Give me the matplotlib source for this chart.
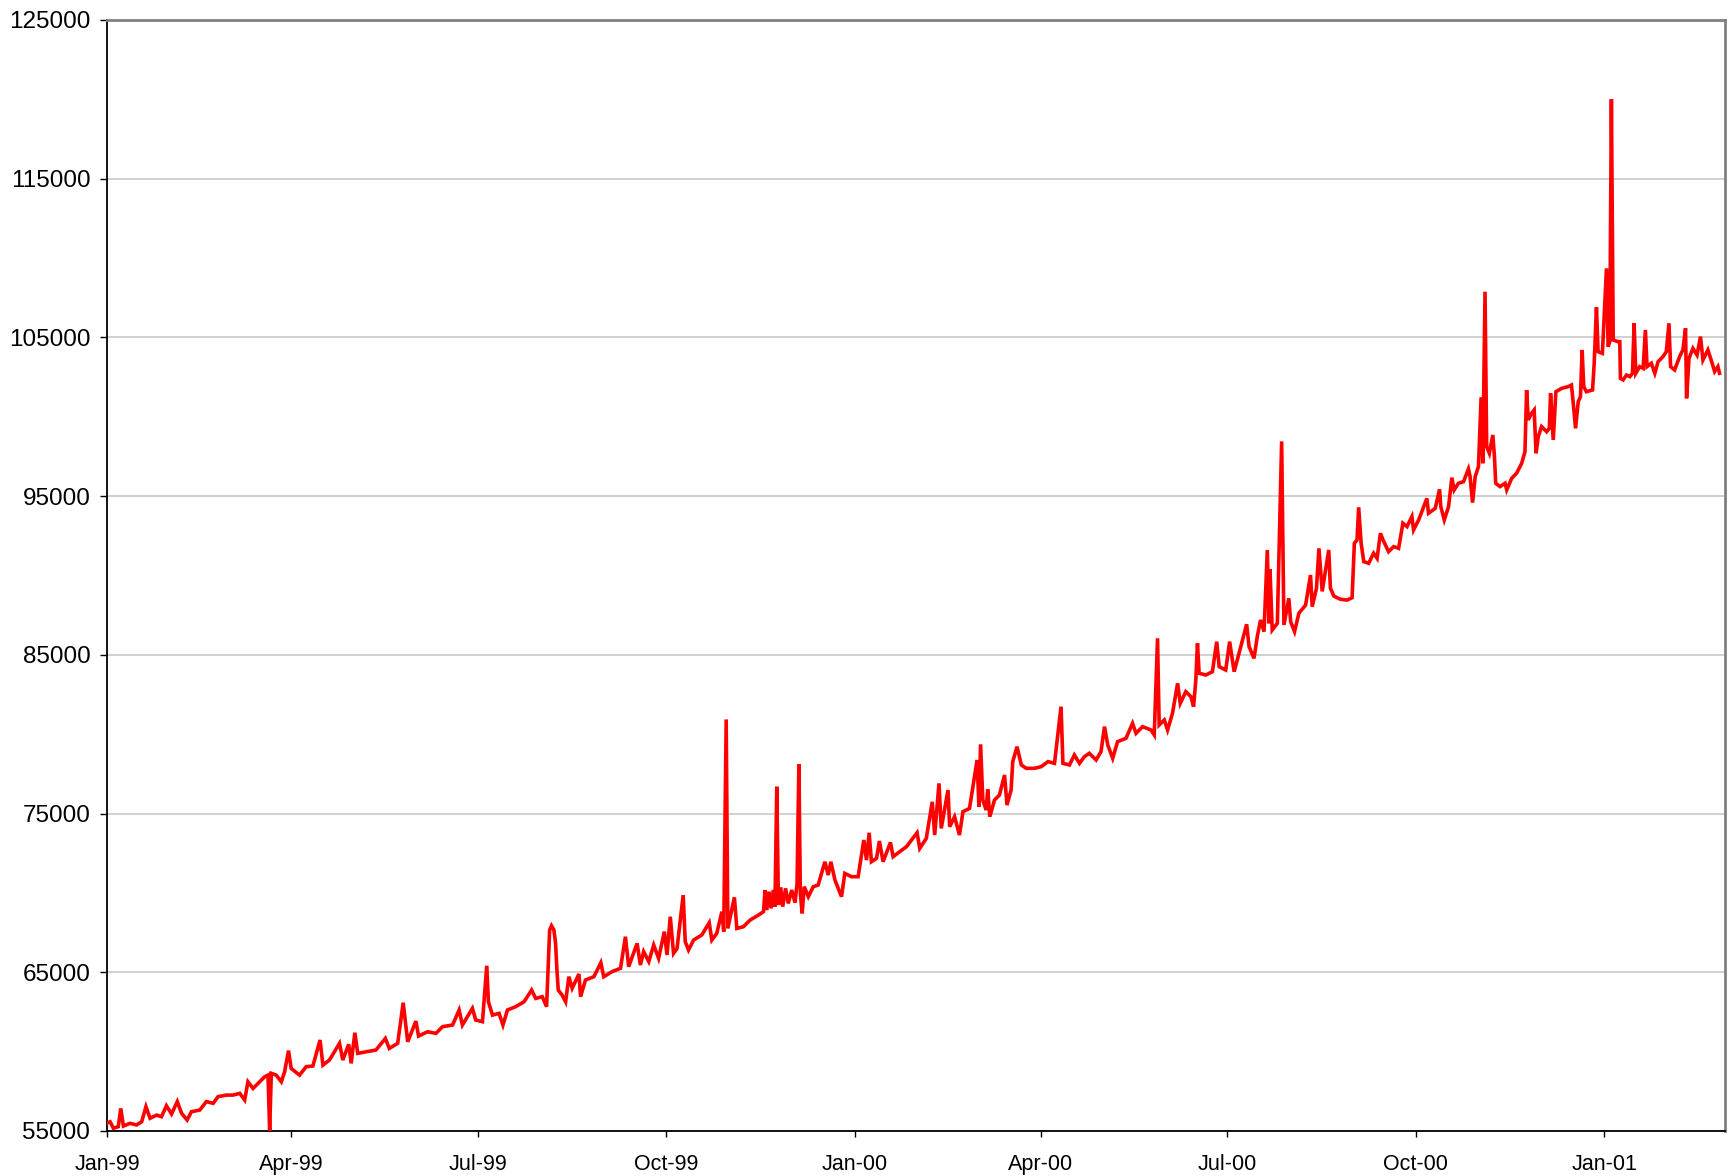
import matplotlib
matplotlib.use("Agg")
import matplotlib.pyplot as plt
import matplotlib.dates as mdates
import pandas as pd

# days counted from 1 Jan 1999
days = [
    0, 1.5, 3.1, 5.5, 6.7, 8, 11.2, 14.4, 16.9, 19, 21, 24.2, 26.6, 29, 31.5, 34.3, 36.4, 39.1, 41.2, 45.3,
    48.5, 51.8, 54.2, 58.3, 61.5, 64.8, 67.2, 68.8, 71.3, 74.5, 77, 78.6, 79.4, 80.2, 82.6, 85.1, 86.7, 88.6, 89.9, 94,
    97.2, 100.5, 104, 105.4, 108.6, 113.5, 115.1, 118, 119.2, 121, 122.4, 126.5, 131.3, 135.9, 137.8, 141.9, 144.6, 146.8, 150.8, 152.1,
    156.5, 160.6, 163.8, 168.7, 171.9, 173.5, 178.4, 180, 183.3, 185.4, 186.2, 188.2, 191.4, 193.3, 195.5, 199.5, 203.6, 207.3, 209.3, 212.5,
    214.6, 216.1, 217, 218.2, 219, 219.7, 220.3, 222.2, 223.9, 225.5, 227.1, 230.4, 231.2, 233.6, 237.7, 241.1, 242.5, 246.6, 250.7, 253.1,
    254.7, 258.8, 260.4, 262, 264.5, 266.9, 269.3, 272.1, 273.4, 275, 276.6, 278.3, 281.3, 282.3, 283.9, 286.4, 290.4, 294, 295.3, 297.7,
    300.2, 301.1, 302.3, 303.1, 306.3, 307.5, 310.7, 314, 318, 320.5, 321.3, 322.1, 323.2, 324.2, 325.3, 326.1, 327, 327.8, 328.9, 329.9,
    331.3, 332.6, 334.3, 335.9, 336.9, 337.8, 338.5, 339.4, 340.4, 342.4, 344.8, 347.2, 350.5, 352.1, 353.4, 355.4, 358.6, 360.2, 363.5, 366.7,
    369.5, 370.8, 372.1, 373.2, 375.7, 377.1, 378.9, 382.5, 383.8, 387, 390.3, 395.5, 396.8, 400, 402.9, 404.1, 406.2, 407.3, 410.6, 411.4,
    413.8, 416.2, 417.9, 421.1, 424.8, 425.7, 426.5, 427.6, 429.2, 430, 431, 433.3, 435.7, 438.2, 439.4, 441.4, 442.2, 444.3, 446.4, 448.8,
    452.9, 456.1, 459.4, 462.6, 465.8, 466.7, 469.9, 472.3, 474.8, 477.2, 479.6, 482.9, 485.3, 487, 488.6, 491, 493.4, 497.5, 500.7, 502.4,
    505.6, 509.7, 511.3, 512.9, 513.7, 516.2, 517.8, 520.2, 522.7, 524, 526.7, 529.2, 530.5, 531.6, 532.4, 533.2, 536.5, 539.7, 541.8, 543,
    546.2, 548.1, 550.3, 552.7, 556.4, 557.6, 560, 561.6, 563.2, 564.9, 566.5, 567.3, 567.8, 568.9, 571.4, 573.5, 574.6, 577, 577.9, 579.8,
    581.9, 585.2, 587.6, 588.4, 590.5, 591.7, 593.3, 596.5, 597.3, 599, 602.2, 605.5, 607.9, 609, 610.3, 611.1, 612.3, 613.6, 616, 618.4,
    620.1, 621.7, 623, 625.7, 628.2, 630.6, 632.7, 634.7, 637.1, 637.9, 640.4, 644.4, 645.2, 648.5, 650.6, 651.2, 652.9, 655, 656.6, 657.7,
    659.8, 662.3, 664.7, 665.5, 666.7, 668, 669.6, 670.9, 671.7, 672.8, 673.6, 674.9, 676.6, 677.4, 678, 680.1, 682.6, 683.4, 685.8, 688.2,
    690.7, 692.3, 693.1, 693.9, 695.5, 696.8, 697.7, 698.8, 700.4, 702.9, 704.2, 704.8, 706.1, 707.4, 710.2, 713.4, 715, 715.8, 717, 718.3,
    719.4, 720.2, 721, 722.3, 725.3, 726.1, 727.2, 728, 730.1, 732.1, 732.9, 733.7, 734.5, 735.4, 737.8, 738.6, 738.9, 740.2, 741.9, 743.5,
    744.8, 745.6, 746.4, 748.3, 750, 751.1, 751.9, 754, 755.7, 757.3, 759.7, 761.3, 762.6, 763.4, 765.4, 767.8, 769.4, 770.7, 771.2, 772.4,
    774.3, 776.3, 778, 779.2, 781.6, 783.2, 784.9, 786.5, 787.3,
]
values = [
    55500, 55580, 55170, 55270, 56420, 55310, 55480, 55380, 55580, 56530, 55800, 56000, 55900, 56590, 56070, 56850, 56110, 55690, 56210, 56320,
    56850, 56740, 57160, 57260, 57260, 57370, 56950, 58100, 57680, 58100, 58420, 58520, 55000, 58630, 58520, 58100, 58730, 60060, 58940, 58520,
    59050, 59090, 60730, 59150, 59470, 60520, 59470, 60460, 59260, 61190, 59890, 59990, 60100, 60830, 60200, 60520, 63080, 60620, 61920, 60980,
    61250, 61150, 61570, 61675, 62620, 61675, 62725, 61990, 61885, 65410, 63140, 62300, 62410, 61675, 62620, 62830, 63140, 63880, 63350, 63460,
    62830, 67660, 67930, 67660, 66820, 65040, 63880, 63560, 63140, 64720, 63990, 64890, 63460, 64510, 64720, 65600, 64720, 65040, 65250, 67240,
    65350, 66820, 65460, 66300, 65670, 66715, 65880, 67560, 66090, 68500, 66190, 66500, 69860, 66930, 66400, 67030, 67350, 68120, 67030, 67450,
    68815, 67555, 80930, 67760, 69720, 67760, 67870, 68290, 68600, 68815, 70180, 68920, 70075, 69025, 70180, 69130, 76690, 69235, 70350, 69130,
    70285, 69340, 70180, 69380, 70600, 78120, 69970, 68710, 70390, 69760, 70390, 70495, 71960, 71125, 71960, 70810, 69760, 71230, 71020, 71020,
    73330, 72070, 73790, 71965, 72175, 73270, 71965, 73180, 72280, 72595, 72910, 73790, 72805, 73435, 75740, 73645, 76900, 74065, 76480, 74170,
    74800, 73645, 75115, 75325, 78370, 75430, 79360, 75850, 75220, 76520, 74800, 75850, 76165, 77425, 75535, 76480, 78265, 79210, 78060, 77850,
    77850, 77955, 78270, 78165, 81735, 78165, 78060, 78690, 78165, 78585, 78795, 78375, 78900, 80475, 79320, 78480, 79530, 79740, 80685, 80055,
    80475, 80265, 79950, 86040, 80580, 80895, 80265, 81315, 83205, 81945, 82680, 82365, 81735, 83415, 85725, 83835, 83730, 83940, 85830, 84255,
    84045, 85830, 83940, 85095, 86925, 85515, 84780, 86145, 87195, 86460, 91605, 86985, 90387, 86565, 86985, 98450, 86880, 88560, 87090, 86460,
    87615, 88140, 90030, 88035, 89190, 91710, 89000, 91605, 89200, 88700, 88500, 88450, 88600, 92030, 92240, 94295, 92030, 90870, 90770, 91400,
    91080, 92660, 92240, 91500, 91820, 91710, 93290, 93080, 93710, 92870, 93500, 94860, 93920, 94230, 95430, 94340, 93500, 94340, 96165, 95385,
    95810, 95910, 96710, 96230, 94590, 96230, 96860, 101225, 97070, 107880, 98120, 97700, 98850, 97490, 95810, 95600, 95810, 95390, 96120, 96440,
    97070, 97800, 101685, 99800, 100215, 100430, 97700, 98750, 99380, 99060, 99270, 101475, 98540, 101580, 101790, 101900, 102000, 100950, 99270, 100950,
    101270, 104210, 101900, 101580, 101690, 103370, 106895, 104100, 103995, 109350, 104415, 104730, 120000, 104840, 104730, 104730, 102420, 102320, 102630, 102530,
    102740, 105890, 102740, 103160, 103050, 105470, 103160, 103370, 102740, 103470, 103790, 104100, 105890, 103160, 102950, 103790, 104210, 105570, 101160, 103680,
    104310, 103890, 105050, 103580, 104210, 103580, 102850, 103160, 102740,
]

y_ticks = list(range(55000, 125001, 10000))
start = pd.Timestamp("1999-01-01")
end = pd.Timestamp("2001-03-01")

dates = start + pd.to_timedelta(days, unit="D")

plt.rcParams["font.family"] = ["Liberation Sans", "DejaVu Sans"]

fig = plt.figure(figsize=(17.32, 11.76), dpi=100)
ax = fig.add_axes([0.0618, 0.0383, 0.9342, 0.9447])

ax.plot(dates, values, color="#ff0000", lw=2.6, solid_joinstyle="miter", zorder=3)

ax.set_xlim(start, end)
ax.set_ylim(55000, 125000)
ax.set_yticks(y_ticks)
ax.yaxis.grid(True, color="#c4c4c4", lw=1.1)
ax.set_axisbelow(True)

ax.xaxis.set_major_locator(mdates.MonthLocator(bymonth=[1, 4, 7, 10]))
ax.xaxis.set_major_formatter(mdates.DateFormatter("%b-%y"))

ax.tick_params(axis="y", labelsize=17.5, length=5, width=1, pad=7, color="black")
ax.tick_params(axis="x", labelsize=15.5, length=4.5, width=1, pad=12, color="black")

for side in ["left", "bottom"]:
    ax.spines[side].set_color("black")
    ax.spines[side].set_linewidth(1.3)
for side in ["top", "right"]:
    ax.spines[side].set_color("#808080")
    ax.spines[side].set_linewidth(2)

fig.savefig("out.png", dpi=100)
